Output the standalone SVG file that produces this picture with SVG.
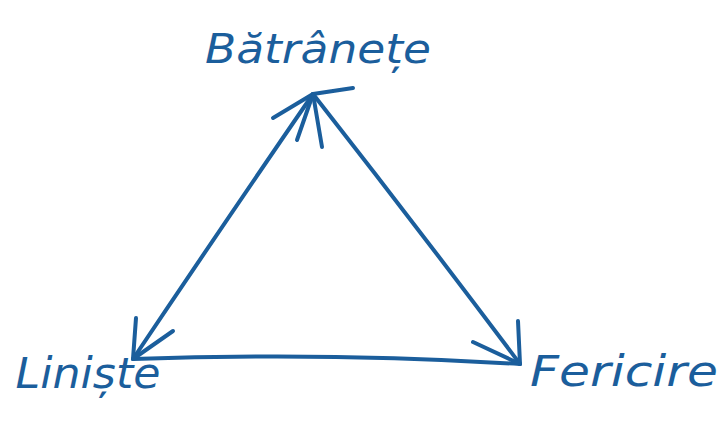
<svg xmlns="http://www.w3.org/2000/svg" width="723" height="428" viewBox="0 0 723 428">
<style>
.ln{fill:none;stroke:#1b5e9c;stroke-width:4;stroke-linecap:round;stroke-linejoin:round}
.lb{fill:#1b5e9c;font-family:"DejaVu Sans","Liberation Sans",sans-serif;font-style:italic}
</style>
<rect width="723" height="428" fill="#ffffff"/>
<g id="connectors">
<path class="ln" d="M313,94 Q225,222 133,359"/>
<path class="ln" d="M313,94 Q418,228 520,364"/>
<path class="ln" d="M133,359 Q330,352 520,364"/>
<path class="ln" d="M273,118 L313,94 L297,140"/>
<path class="ln" d="M322,147 L313,94 L353,88"/>
<path class="ln" d="M136,318 L133,359 L173,331"/>
<path class="ln" d="M473,342 L520,364 L518,321"/>
</g>
<g id="node-batranete"><text class="lb" x="318" y="63" font-size="40" text-anchor="middle" textLength="226" lengthAdjust="spacingAndGlyphs">Bătrânețe</text></g>
<g id="node-liniste"><text class="lb" x="88" y="388" font-size="42" text-anchor="middle" textLength="145" lengthAdjust="spacingAndGlyphs">Liniște</text></g>
<g id="node-fericire"><text class="lb" x="624" y="386" font-size="42" text-anchor="middle" textLength="188" lengthAdjust="spacingAndGlyphs">Fericire</text></g>
</svg>
